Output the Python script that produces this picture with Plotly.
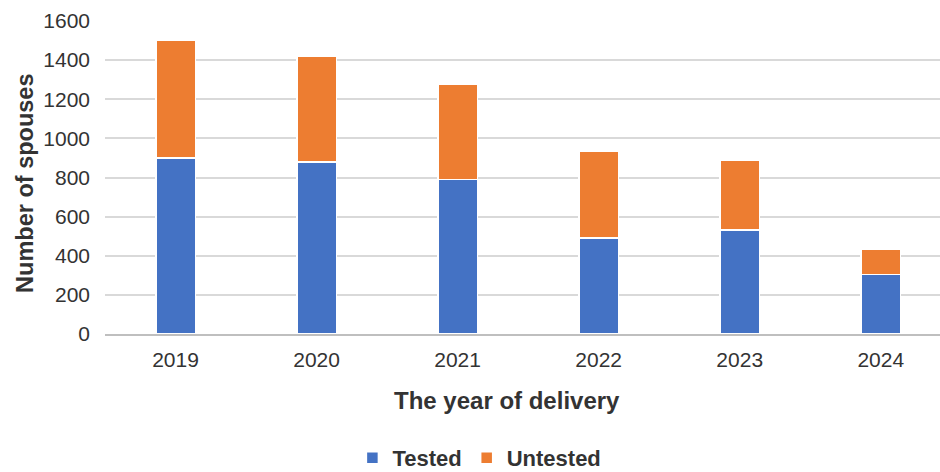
import plotly.graph_objects as go

years = ["2019", "2020", "2021", "2022", "2023", "2024"]
tested = [900, 878, 790, 490, 532, 305]
untested = [600, 542, 485, 445, 358, 130]

font_family = "Liberation Sans, Arial, sans-serif"
text_color = "#333333"

fig = go.Figure()
fig.add_trace(go.Bar(x=years, y=tested, name="Tested",
                     marker=dict(color="#4472C4", line=dict(color="white", width=1.5)),
                     width=0.28))
fig.add_trace(go.Bar(x=years, y=untested, name="Untested",
                     marker=dict(color="#ED7D31", line=dict(color="white", width=1.5)),
                     width=0.28))

fig.update_layout(
    barmode="stack",
    width=940, height=472,
    margin=dict(l=105, r=0, t=21, b=138),
    paper_bgcolor="white", plot_bgcolor="white",
    font=dict(family=font_family, color=text_color),
    xaxis=dict(
        type="category",
        range=[-0.5, 5.42],
        automargin=False,
        tickfont=dict(size=21, color=text_color),
        ticklabelstandoff=6,
        ticks="", showgrid=False,
        showline=True, linecolor="#bfbfbf", linewidth=1.5,
    ),
    yaxis=dict(
        range=[0, 1600],
        dtick=200,
        automargin=False,
        tickfont=dict(size=21, color=text_color),
        ticklabelstandoff=14,
        showgrid=True, gridcolor="#d9d9d9", gridwidth=1.5,
        zeroline=False,
    ),
    legend=dict(orientation="h", x=0.51, xanchor="center", xref="container",
                y=0.03, yanchor="middle", yref="container",
                font=dict(size=22, weight="bold", color=text_color), traceorder="normal",
                itemwidth=30),
    bargap=0.72,
    annotations=[
        dict(text="The year of delivery", xref="paper", yref="paper",
             x=0.4814, y=-0.211, xanchor="center", yanchor="middle", showarrow=False,
             font=dict(size=24, weight="bold", color=text_color)),
        dict(text="Number of spouses", xref="paper", yref="paper", textangle=-90,
             x=-0.0958, y=0.4796, xanchor="center", yanchor="middle", showarrow=False,
             font=dict(size=23.5, weight="bold", color=text_color)),
    ],
)

fig.write_html("out.html")
